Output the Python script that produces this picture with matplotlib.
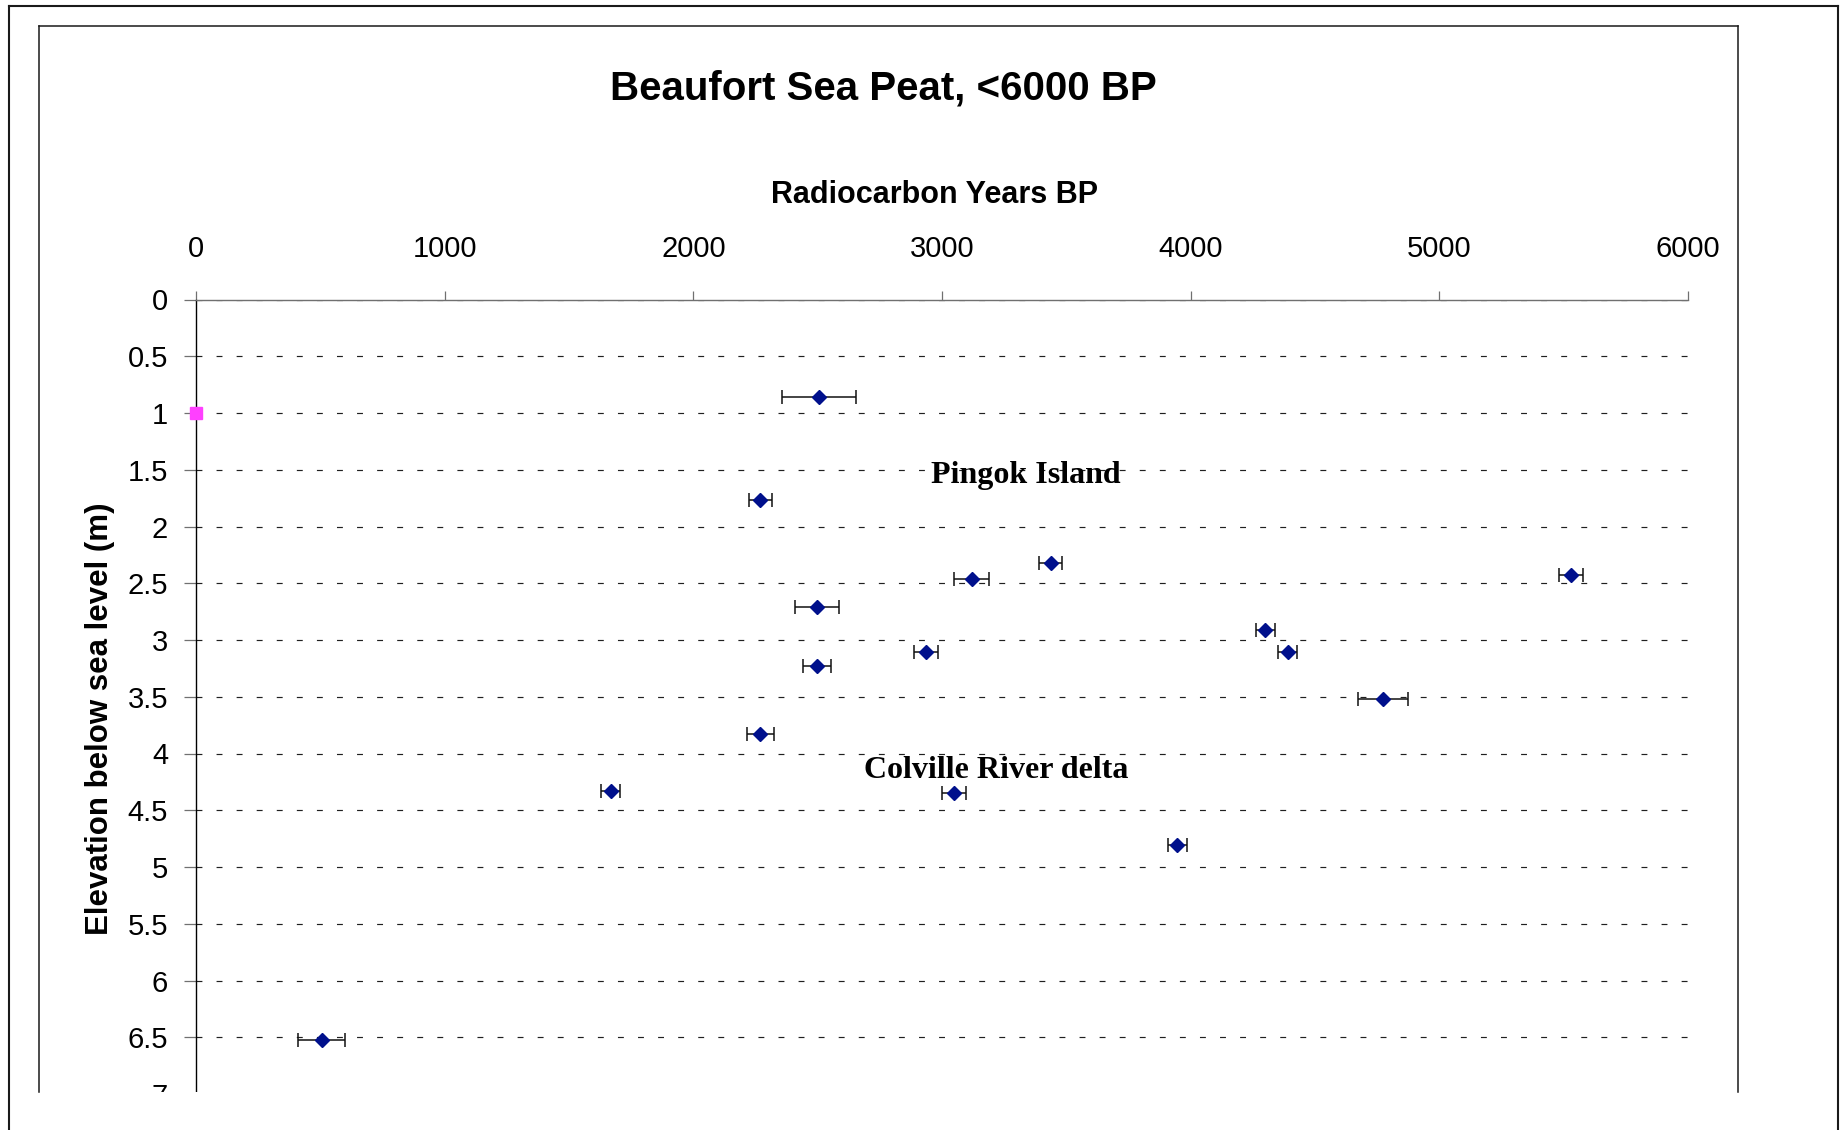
import matplotlib
matplotlib.use("Agg")
import matplotlib.pyplot as plt
from matplotlib.patches import Rectangle
from matplotlib.lines import Line2D
from matplotlib.ticker import FuncFormatter, FixedLocator

# ---- data ----
ages = [2504, 2270, 3437, 3119, 5529, 2498, 4300, 2935, 4390, 2498, 4773, 2270, 1667, 3048, 3947, 505]
depths = [0.86, 1.77, 2.32, 2.46, 2.43, 2.71, 2.91, 3.11, 3.11, 3.23, 3.52, 3.83, 4.33, 4.35, 4.81, 6.52]
age_err = [149, 48, 47, 71, 47, 88, 39, 47, 39, 55, 101, 55, 39, 49, 39, 95]
ref_age = [0]
ref_depth = [1.0]
x_ticks = [0, 1000, 2000, 3000, 4000, 5000, 6000]
y_ticks = [0, 0.5, 1, 1.5, 2, 2.5, 3, 3.5, 4, 4.5, 5, 5.5, 6, 6.5, 7]
title = "Beaufort Sea Peat, <6000 BP"
x_label = "Radiocarbon Years BP"
y_label = "Elevation below sea level (m)"
annotations = ["Pingok Island", "Colville River delta"]
annot_x = [3339, 3217]
annot_y = [1.615, 4.215]

plt.rcParams["font.family"] = ["Liberation Sans", "DejaVu Sans"]

W, H = 1841, 1130
fig = plt.figure(figsize=(W / 100, H / 100), dpi=100)
fig.patch.set_facecolor("white")


def fx(px):
    return px / W


def fy(py):
    return 1 - py / H


ax = fig.add_axes([fx(196), fy(1094), fx(1688) - fx(196), fy(299.5) - fy(1094)])
ax.set_xlim(0, 6000)
ax.set_ylim(7, 0)
ax.xaxis.tick_top()
ax.xaxis.set_major_locator(FixedLocator(x_ticks))
ax.yaxis.set_major_locator(FixedLocator(y_ticks))
ax.yaxis.set_major_formatter(FuncFormatter(lambda v, p: f"{v:g}"))
ax.xaxis.set_major_formatter(FuncFormatter(lambda v, p: f"{v:g}"))

for s in ["bottom", "right"]:
    ax.spines[s].set_visible(False)
ax.spines["top"].set_color("#707070")
ax.spines["top"].set_linewidth(1.0)
ax.spines["left"].set_color("#000000")
ax.spines["left"].set_linewidth(1.0)

ax.tick_params(axis="x", direction="out", length=6.5, width=0.9, color="#707070",
               pad=20, labelsize=21, top=True, bottom=False)
ax.tick_params(axis="y", direction="out", length=8.6, width=0.9, color="#707070",
               pad=11.5, labelsize=21)

ax.yaxis.grid(True, color="#202020", linewidth=0.85, linestyle=(0, (5, 12)))
ax.xaxis.grid(False)
ax.set_axisbelow(True)

ax.errorbar(ages, depths, xerr=age_err, fmt="none", ecolor="#111111",
            elinewidth=1.1, capsize=5.2, capthick=1.1, zorder=3)
ax.plot(ages, depths, "D", color="#00108C", mec="#00108C", ms=7.6, zorder=4, clip_on=False)
ax.plot(ref_age, ref_depth, "s", color="#FF40FF", mec="#FF40FF", ms=8.2, zorder=5, clip_on=False)

for t, xv, yv in zip(annotations, annot_x, annot_y):
    ax.text(xv, yv, t, ha="center", va="baseline", fontsize=23, fontweight="bold",
            family=["Liberation Serif", "DejaVu Serif"], zorder=6)

fig.text(fx(883), fy(99.3), title, ha="center", va="baseline", fontsize=29, fontweight="bold")
fig.text(fx(935), fy(203.3), x_label, ha="center", va="baseline", fontsize=22, fontweight="bold")
fig.text(fx(108.5), fy(719), y_label, ha="center", va="baseline", rotation=90,
         rotation_mode="anchor", fontsize=22.5, fontweight="bold")

# bottom crop of the chart area
fig.add_artist(Rectangle((0, 0), 1, fy(1091.5), transform=fig.transFigure,
                         facecolor="white", edgecolor="none", zorder=10))


def fline(x0, y0, x1, y1, lw, color="#1a1a1a"):
    fig.add_artist(Line2D([fx(x0), fx(x1)], [fy(y0), fy(y1)], transform=fig.transFigure,
                          linewidth=lw, color=color, zorder=11, solid_capstyle="projecting"))


# outer frame
fline(8.5, 6, 8.5, 1130, 1.5)
fline(8.5, 6, 1838, 6, 1.5)
fline(1838, 6, 1838, 1130, 1.5)
# inner frame
fline(38.5, 26, 38.5, 1091.5, 1.1)
fline(38.5, 26, 1738, 26, 1.1)
fline(1738, 26, 1738, 1091.5, 1.1)

fig.savefig("out.png", dpi=100)
